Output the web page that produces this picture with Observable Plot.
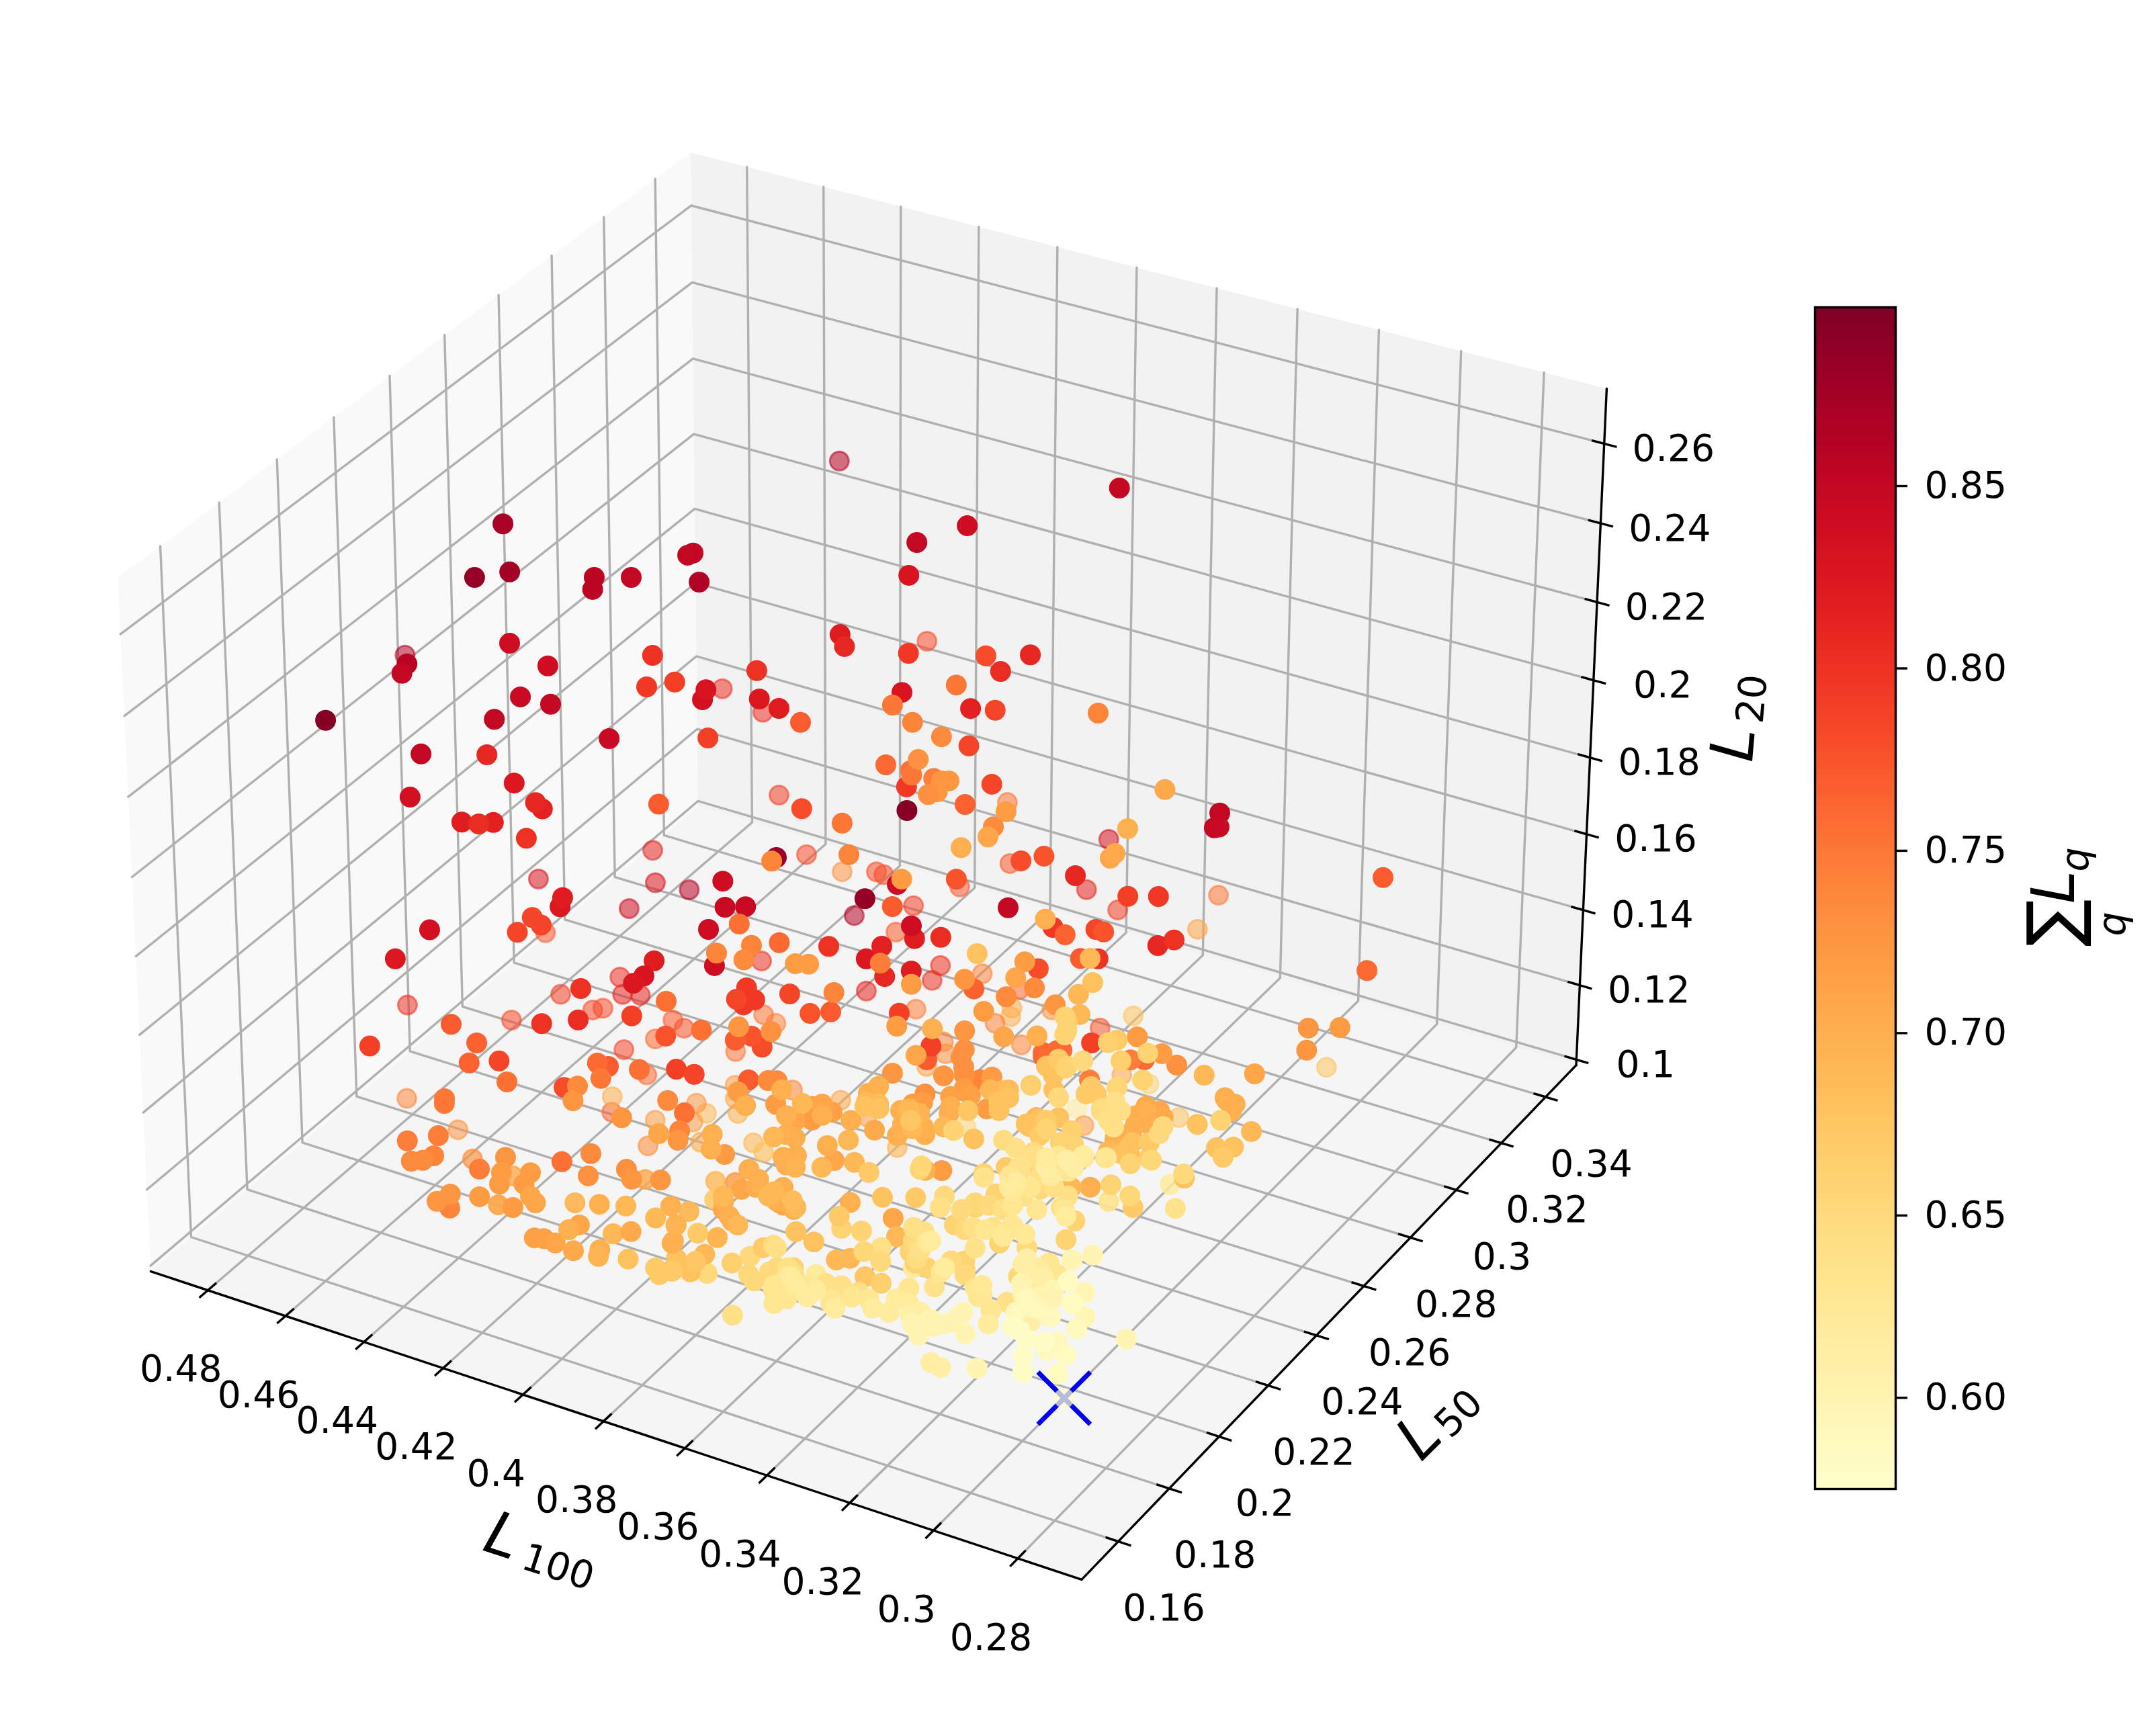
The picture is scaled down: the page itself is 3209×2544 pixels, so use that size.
<!DOCTYPE html>
<html lang="en">
<head>
<meta charset="UTF-8">
<title>L100 L50 L20</title>
<script src="https://cdn.jsdelivr.net/npm/d3@7"></script>
<script src="https://cdn.jsdelivr.net/npm/@observablehq/plot@0.6"></script>
<style>
body { margin: 0; background: white; position: relative; width: 3209px; height: 2544px; overflow: hidden; }
#chart, #bar { position: absolute; top: 0; left: 0; }
</style>
</head>
<body>
<div id="chart"></div>
<div id="bar"></div>
<script>
const L100 = [.4382,.4318,.4259,.4095,.4071,.4029,.3972,.3977,.3917,.4099,.5034,.4368,.4314,.4059,.3820,.3763,.3724,.3845,.3904,.4410,.3604,.3764,.3720,.4317,.3420,.4186,.4204,.4839,.4297,.4161,.3638,.4445,.4066,.4204,.4429,.4103,.4147,.3663,.4244,.3583,.4300,.4170,.4226,.4105,.4453,.4431,.4657,.4474,.4161,.4074,.3414,.4155,.4334,.4308,.3341,.3537,.3592,.3536,.3533,.3500,.3373,.4041,.3231,.3288,.3258,.3619,.3295,.3224,.3457,
.3222,.2920,.3225,.3146,.3313,.3264,.3141,.3209,.3177,.3121,.3059,.3046,.3045,.3055,.3531,.3353,.2658,.3259,.3252,.3263,.3852,.3274,.3800,.2917,.3066,.2907,.2666,.3628,.3341,.2943,.2758,.2805,.3317,.4079,.4013,.3999,.3152,.3831,.3491,.3845,.3760,.3416,.3345,.3499,.3606,.3388,.3330,.3345,.2917,.4392,.4469,.4144,.4103,.4674,.4137,.4142,.4182,.4617,.4164,.3682,.4697,.4250,.3594,.3709,.3645,.4133,.3590,.4184,.3426,
.4259,.4450,.4274,.4432,.4400,.4343,.4551,.4061,.4063,.4038,.4056,.3974,.3914,.4840,.4462,.4481,.4361,.4261,.4323,.4295,.3934,.4345,.4143,.4150,.4122,.3647,.3661,.4024,.4032,.3999,.4185,.4326,.4633,.4426,.4295,.4345,.4469,.4261,.4627,.4400,.4159,.4233,.4109,.4085,.4344,.4150,.4112,.4352,.4027,.3983,.4396,.4389,.3964,.4790,.4325,.4338,.4675,.4373,.4419,.4379,.4376,.4360,.3957,.4110,.4231,.4208,.4229,.4302,.3835,
.4049,.3948,.4279,.3694,.4186,.3885,.4005,.3802,.3789,.4054,.3528,.3740,.4167,.4159,.3597,.4147,.3719,.3454,.3653,.3550,.4083,.4044,.3611,.3661,.3629,.4157,.4316,.4169,.4108,.4084,.4213,.4053,.4586,.4401,.4178,.4175,.4202,.4472,.4143,.4175,.4109,.4118,.4319,.4350,.4252,.4438,.4240,.4297,.3966,.3861,.3893,.4039,.4075,.4035,.3727,.3737,.3731,.3858,.3727,.3679,.3622,.3643,.4479,.4242,.3852,.4063,.3887,.3673,.3867,
.3971,.3877,.4240,.4231,.4186,.4058,.4140,.4068,.4043,.4160,.4033,.3889,.4010,.3989,.3784,.3848,.3990,.3778,.3902,.3558,.3406,.3419,.3657,.3580,.3511,.3856,.3408,.3630,.3642,.3856,.3820,.3673,.3760,.3341,.3328,.3884,.3584,.3922,.4319,.3781,.3942,.3769,.3719,.3926,.3826,.3850,.3516,.3803,.3757,.3333,.3862,.3902,.4080,.3590,.3862,.3926,.3758,.3862,.3426,.3412,.2907,.3608,.2912,.3514,.3391,.3432,.3412,.3528,.3306,
.3276,.3365,.2855,.3443,.3412,.2822,.2934,.3296,.3605,.3754,.3157,.3518,.3125,.3308,.3674,.3356,.3677,.3675,.3297,.3701,.3248,.3240,.3600,.2970,.2847,.2800,.3441,.3602,.3378,.2802,.2823,.3164,.3133,.3640,.3240,.3395,.3793,.3678,.3470,.3385,.3781,.3679,.3811,.3510,.3507,.3563,.3461,.3429,.3024,.2898,.2750,.2820,.3294,.3268,.2739,.3166,.3206,.2935,.3020,.2975,.2898,.2967,.3042,.2897,.3361,.3432,.2792,.3375,.2798,
.2957,.2945,.2843,.3065,.2967,.3153,.3414,.3606,.3213,.3568,.3466,.3438,.3167,.3484,.3163,.3382,.3547,.3562,.3376,.3330,.3957,.3634,.3511,.3589,.3713,.3896,.3543,.3436,.3247,.3379,.3452,.3487,.3798,.3339,.3102,.3702,.3251,.3473,.3589,.3689,.3560,.3513,.3356,.3165,.3594,.3153,.3214,.3161,.3054,.3111,.3475,.3499,.3007,.2782,.2723,.2760,.2797,.3147,.3182,.3177,.3299,.2962,.2777,.3029,.3027,.2984,.2982,.2961,.2918,
.3243,.3073,.3106,.3007,.2964,.2894,.2752,.2773,.2801,.2904,.2949,.2911,.2905,.2744,.2690,.2845,.3356,.3473,.3682,.3479,.3740,.3403,.3660,.3617,.3642,.3844,.3761,.3374,.3687,.3664,.3405,.3627,.3366,.3600,.3534,.3696,.3405,.3390,.3467,.3373,.3303,.3268,.3227,.3215,.3225,.3177,.3102,.3054,.3069,.3071,.3043,.2972,.3014,.3236,.3368,.3159,.3137,.3071,.3262,.3279,.3527,.3526,.3214,.3162,.3109,.3179,.2961,.2836,.2820,
.3190,.2927,.2973,.2828,.3141,.3191,.2950,.2983,.2976,.3091,.3113,.3288,.3110,.3273,.3172,.2933,.2964,.3021,.3032,.2751,.2717,.2692,.2758,.2716,.2809,.2802,.2847,.2851,.2971,.2795,.2847,.2846,.2834,.3000,.2802,.2782,.2848,.2878,.2826,.2832,.2867,.2875,.3226,.3181,.3132,.3098,.3169,.3237,.3194,.3074,.2806,.3204,.3081,.3124,.2989,.3026,.3288,.3303,.3047,.3179,.2906,.2697,.2817,.2888,.2934,.3310,.2769,.2977,.2881,
.3177,
.3178,.3177,.3287,.3395,.3215,.3025,.3413,.3408,.3064,.3286,.3351,.3296,.3168,.3228,.3130,.3042,.2946,.2995,.2892,.2950,.2890,.3041,.2941,.2910,.3077,.2944,.2897,.3023,.3004,.3205,.2877,.2903,.2893,.2872,.2856,.2829,.2808,.2805,.2825,.2795,.3160,.3153,.3377,.3348,.3432,.3337,.3308,.3293,.3182,
.3115,.3023,.3016,.2988,.3334,.3559,.3382,.3493,.3346,.3280,.3163,.3092,.2995,.3003,.3138,.2994,.2913,.2744,.2698,.2818,.2754,.2713,.3169,.3177,.3206,.3168,.3203,.3282,.3196,.3087,.2975,.2781,.2927,.2853,.3028,.3038,.3463,.3438,.2939,.2788,.2766,.3343,.3378,.3440,.3459,.3369,.3434,.3412,.3309,
.3300,.3532,.3686,.3151,.3128,.3200,.3027,.3042,.3470,.3488,.3520,.3757,.3663,.3674,.3609,.3573,.3726,.3349,.3400,.3380,.3548,.3847,.3776,.3923,.3842,.3752,.3966,.3928];
const L50 = [.1998,.1805,.1844,.1905,.1864,.1940,.2079,.2067,.2018,.1612,.2543,.1635,.1543,.1685,.1705,.1599,.1640,.1931,.2006,.2838,.1752,.2003,.2008,.2855,.1627,.1768,.1899,.1989,.1832,.2044,.1627,.1780,.1479,.1765,.1716,.1695,.1781,.1488,.2805,.1880,.1714,.1591,.1720,.1663,.2626,.2602,.2487,.2796,.2459,.2534,.1512,.2776,.2114,.3148,.2707,.2431,.2326,.2207,.1946,.1911,.1948,.3081,.2011,.2160,.2225,.2313,.1766,.1889,.2319,
.2033,.1928,.1729,.1710,.2081,.1693,.1617,.1697,.1650,.1642,.1571,.1578,.1534,.1517,.2192,.2235,.1745,.3008,.2994,.2993,.2702,.2005,.3026,.1580,.1776,.1498,.1619,.3168,.1654,.1458,.1728,.1789,.1641,.2800,.2834,.2842,.1575,.2631,.2322,.2905,.2973,.2455,.2430,.2814,.3040,.2847,.2877,.3160,.3117,.2187,.2556,.2441,.2458,.2108,.1723,.1761,.1733,.2452,.2407,.1799,.2014,.2327,.1710,.1987,.1660,.2382,.1676,.2641,.1613,
.2301,.2489,.2283,.2472,.2493,.2187,.2410,.2396,.2360,.2392,.2376,.2430,.1875,.2248,.2440,.2429,.2201,.2256,.2503,.2504,.2033,.2467,.2209,.2596,.2601,.1741,.1881,.2358,.2307,.2360,.2538,.1694,.2341,.2159,.1739,.1780,.2061,.1795,.1819,.2427,.1978,.2125,.1917,.2024,.2431,.2258,.2269,.2131,.1714,.1634,.2374,.2361,.1780,.2167,.1662,.1679,.2192,.1703,.1657,.1693,.1610,.1628,.1939,.2227,.2453,.2457,.2436,.2399,.1725,
.2118,.1962,.2336,.1711,.2400,.2042,.2316,.2083,.2097,.2561,.1717,.1876,.2508,.2496,.1688,.2488,.1985,.1679,.1957,.1719,.2451,.2431,.1860,.1923,.1920,.1945,.2066,.1951,.2004,.1988,.2227,.2050,.2119,.1885,.1667,.1647,.1677,.2106,.1705,.1726,.1655,.1685,.1665,.1660,.1675,.2002,.1776,.2084,.1697,.1640,.1851,.2233,.2291,.2307,.1895,.1946,.1804,.2064,.2023,.1894,.1898,.1946,.1883,.2020,.1734,.2170,.1861,.1623,.1984,
.1969,.1951,.1851,.1873,.1850,.1717,.1850,.1843,.1801,.2026,.1908,.1686,.1963,.1946,.1692,.1854,.2012,.1770,.1997,.1575,.1497,.1516,.1723,.1669,.1641,.2091,.1500,.1799,.1941,.2024,.1940,.1989,.2047,.1459,.1459,.2586,.2222,.2840,.3222,.2608,.2801,.2602,.2627,.2509,.2562,.2538,.2069,.2537,.2570,.1898,.2855,.2885,.2898,.2008,.2417,.2435,.2524,.2756,.1990,.1640,.1461,.2719,.1723,.2749,.2595,.2790,.2789,.3042,.2837,
.2854,.3107,.1801,.2746,.2767,.1757,.1890,.2042,.2578,.2853,.2049,.2697,.1962,.2336,.2875,.2303,.2851,.2843,.2119,.2821,.2118,.2308,.2890,.1957,.1703,.1616,.2968,.3099,.2688,.1787,.1857,.2516,.2060,.2831,.1830,.2203,.2758,.2524,.2323,.1999,.2748,.2509,.2719,.2306,.2381,.2190,.2627,.2651,.1939,.1783,.1603,.1868,.2710,.2724,.1835,.2623,.2755,.2402,.2764,.2912,.2912,.2893,.3118,.3022,.2653,.2908,.1907,.2928,.1817,
.1963,.1984,.1667,.2016,.1765,.1984,.2343,.2386,.2010,.2545,.2263,.2297,.1970,.2437,.1844,.2123,.2283,.2267,.1797,.1770,.2603,.2068,.1949,.1961,.2113,.2612,.2089,.2021,.1760,.2004,.2141,.2089,.2580,.2033,.1691,.2705,.2009,.1880,.1980,.2161,.1914,.1965,.1775,.1671,.2435,.1890,.2194,.2067,.1969,.2113,.2823,.2834,.1993,.1731,.1705,.1742,.1986,.2527,.2546,.2652,.2929,.2425,.2199,.2662,.2696,.2693,.2542,.2577,.2459,
.2564,.2348,.2361,.2305,.2156,.2122,.1702,.1651,.1600,.1672,.1633,.1616,.1620,.1459,.1474,.2170,.1953,.2010,.2212,.1854,.2268,.1820,.2346,.2292,.2009,.2201,.2115,.1459,.2165,.2183,.1832,.2247,.1835,.2141,.2101,.2100,.1570,.1666,.1831,.1763,.1462,.1510,.1586,.1630,.1720,.1644,.1568,.1461,.1510,.1572,.1603,.1521,.1598,.1835,.2167,.1737,.2003,.1545,.1809,.1836,.2216,.2261,.1744,.1754,.1653,.1899,.1579,.1472,.1471,
.2037,.1727,.1898,.1676,.2233,.2281,.1720,.1726,.1678,.1825,.1786,.1995,.1789,.2149,.2093,.1686,.1797,.1932,.1983,.1573,.1596,.1460,.1636,.1519,.1723,.1680,.1953,.1546,.1791,.1475,.1659,.1637,.1498,.1827,.1459,.1520,.1680,.1691,.1680,.1523,.1580,.1728,.2104,.1967,.1878,.1797,.1898,.1824,.1794,.1741,.2072,.2733,.2581,.2442,.2199,.2184,.2618,.2565,.2377,.2518,.1958,.1521,.1664,.1739,.1752,.2498,.1517,.1795,.1558,
.1977,
.1663,.1701,.1835,.1994,.1747,.1484,.2042,.2081,.1598,.1980,.2138,.2050,.1829,.1980,.1874,.1784,.1665,.1786,.1564,.1698,.1640,.1928,.1815,.1725,.1959,.1875,.1784,.1687,.1736,.1902,.1608,.1663,.1700,.1587,.1628,.1634,.1522,.1583,.1471,.1476,.1898,.1860,.1704,.1482,.1571,.1501,.1635,.1675,.1604,
.1551,.1481,.1521,.1528,.1599,.1804,.1507,.1640,.1616,.1459,.2084,.2007,.1873,.1941,.2082,.1979,.1673,.1460,.1461,.1791,.1710,.1667,.2523,.2579,.2686,.2578,.2567,.2631,.2458,.2358,.2251,.1973,.1804,.1715,.1925,.1969,.2630,.2645,.1953,.1604,.1560,.1907,.1976,.2115,.2065,.2108,.1895,.1899,.1686,
.1724,.1873,.2071,.1943,.1944,.2034,.2652,.2708,.2323,.2339,.2404,.1966,.1892,.1955,.1889,.1802,.1754,.1462,.1539,.1458,.1640,.2000,.1925,.2092,.2183,.2078,.1967,.1921];
const L20 = [.2737,.2728,.2737,.2737,.2737,.2737,.2737,.2737,.2715,.2737,.1927,.2597,.2641,.2654,.2737,.2737,.2737,.2522,.2439,.1857,.2737,.2483,.2470,.1813,.2737,.2496,.2400,.2124,.2373,.2246,.2636,.2273,.2553,.2281,.2207,.2303,.2225,.2549,.1646,.2338,.2185,.2290,.2203,.2233,.1541,.1476,.1484,.1331,.1646,.1690,.2474,.1533,.1752,.2308,.2737,.2737,.2737,.2737,.2737,.2737,.2737,.1953,.2737,.2601,.2614,.2369,.2737,.2737,.2373,
.2597,.2737,.2737,.2737,.2457,.2645,.2737,.2645,.2671,.2684,.2737,.2737,.2737,.2737,.2229,.2264,.2737,.1778,.1752,.1747,.1782,.2369,.1633,.2702,.2509,.2693,.2715,.1506,.2505,.2680,.2566,.2505,.2444,.1497,.1497,.1489,.2474,.1638,.1935,.1467,.1515,.1927,.1975,.1655,.1454,.1616,.1616,.1449,.1651,.1668,.1423,.1594,.1598,.1568,.1992,.1949,.1935,.1375,.1550,.2071,.1541,.1489,.2098,.1905,.2093,.1480,.2084,.1322,.2163,
.1462,.1287,.1449,.1257,.1252,.1471,.1257,.1436,.1427,.1414,.1405,.1427,.1760,.1235,.1230,.1226,.1375,.1384,.1204,.1191,.1585,.1169,.1397,.1217,.1200,.1861,.1760,.1344,.1362,.1322,.1143,.1681,.1204,.1370,.1616,.1524,.1318,.1493,.1454,.1147,.1462,.1340,.1476,.1441,.1095,.1278,.1270,.1243,.1607,.1633,.1055,.1024,.1506,.1051,.1511,.1484,.0989,.1375,.1375,.1327,.1366,.1362,.1454,.1195,.1042,.1020,.1003,.1007,.1541,
.1235,.1340,.0985,.1594,.0985,.1274,.1261,.1467,.1462,.1068,.1756,.1585,.1077,.1051,.1712,.1020,.1493,.1769,.1489,.1629,.0985,.0985,.1528,.1414,.1401,.1248,.1099,.1182,.1186,.1178,.0985,.1147,.0985,.1165,.1405,.1379,.1322,.0985,.1353,.1300,.1335,.1296,.1265,.1239,.1274,.0985,.1186,.0985,.1335,.1401,.1257,.0985,.0985,.0985,.1379,.1318,.1366,.1178,.1252,.1327,.1331,.1410,.1038,.0985,.1314,.0985,.1204,.1405,.1099,
.1059,.1073,.1059,.1046,.1064,.1226,.1059,.1090,.1108,.0985,.1108,.1226,.0985,.0985,.1226,.1099,.0985,.1204,.0985,.1265,.1397,.1414,.1270,.1300,.1349,.0985,.1541,.1270,.1217,.1121,.1239,.1239,.1191,.1511,.1493,.1611,.1896,.1432,.1059,.1559,.1379,.1533,.1537,.1519,.1519,.1493,.1865,.1462,.1471,.1971,.1283,.1213,.1121,.1804,.1423,.1388,.1388,.1226,.1782,.2150,.2439,.1594,.2365,.1554,.1664,.1550,.1550,.1423,.1519,
.1533,.1384,.2242,.1497,.1493,.2220,.2076,.1909,.1467,.1296,.1992,.1476,.2014,.1708,.1265,.1690,.1230,.1213,.1782,.1200,.1734,.1703,.1226,.1975,.2150,.2185,.1213,.1051,.1331,.2062,.2019,.1519,.1808,.1156,.1931,.1651,.1160,.1327,.1506,.1716,.1138,.1300,.1112,.1436,.1414,.1497,.1305,.1318,.1835,.1971,.2146,.1962,.1300,.1300,.2027,.1410,.1287,.1563,.1318,.1362,.1388,.1318,.1112,.1471,.1261,.1095,.1900,.1077,.1935,
.1778,.1769,.1988,.1721,.1918,.1712,.1441,.1309,.1677,.1261,.1423,.1414,.1664,.1278,.1743,.1493,.1370,.1370,.1725,.1752,.1046,.1449,.1541,.1550,.1375,.1016,.1419,.1546,.1743,.1568,.1405,.1423,.0985,.1528,.1808,.0994,.1541,.1546,.1432,.1248,.1427,.1423,.1568,.1712,.1081,.1559,.1493,.1572,.1677,.1576,.0998,.1029,.1651,.1935,.1971,.1896,.1716,.1327,.1270,.1222,.1011,.1414,.1624,.1309,.1278,.1222,.1274,.1261,.1322,
.1195,.1379,.1331,.1388,.1480,.1533,.1848,.1874,.1900,.1822,.1870,.1874,.1826,.1979,.1988,.1484,.1392,.1318,.1108,.1366,.0985,.1375,.0989,.0989,.1147,.1055,.1125,.1572,.0985,.0985,.1314,.0985,.1300,.0985,.1016,.0985,.1423,.1344,.1200,.1265,.1471,.1423,.1388,.1353,.1353,.1379,.1432,.1489,.1423,.1405,.1405,.1506,.1388,.1278,.1064,.1405,.1230,.1633,.1427,.1335,.0985,.1213,.1642,.1585,.1638,.1471,.1808,.1892,.1909,
.1471,.1646,.1528,.1695,.1226,.1130,.1581,.1589,.1594,.1484,.1502,.1318,.1449,.1178,.1235,.1533,.1441,.1349,.1283,.1677,.1686,.1716,.1554,.1616,.1419,.1419,.1200,.1603,.1388,.1629,.1493,.1467,.1568,.1274,.1559,.1497,.1370,.1331,.1344,.1445,.1353,.1248,.1068,.1151,.1191,.1353,.1235,.1090,.1112,.1186,.1471,.0985,.1138,.1134,.1362,.1388,.0985,.1051,.1327,.1204,.1638,.1984,.1817,.1773,.1712,.1090,.1914,.1730,.1813,
.1445,
.1559,.1524,.1379,.1213,.1436,.1690,.1147,.1112,.1537,.1235,.1112,.1151,.1502,.1392,.1497,.1572,.1690,.1620,.1843,.1752,.1769,.1533,.1642,.1765,.1563,.1581,.1620,.1589,.1559,.1392,.1616,.1533,.1506,.1541,.1515,.1537,.1572,.1511,.1554,.1528,.1243,.1287,.1318,.1471,.1397,.1462,.1357,.1331,.1414,
.1432,.1497,.1462,.1484,.1366,.1239,.1410,.1366,.1340,.1497,.1554,.1603,.1734,.1655,.1581,.1629,.1813,.2001,.2010,.1892,.1935,.2019,.1309,.1296,.1208,.1252,.1230,.1147,.1248,.1357,.1471,.1747,.1971,.2032,.1848,.1795,.1314,.1318,.1808,.2207,.2273,.1651,.1546,.1445,.1476,.1524,.1668,.1690,.1804,
.1778,.1594,.1445,.1708,.1725,.1664,.1322,.1248,.1405,.1471,.1375,.1278,.1344,.1370,.1502,.1624,.1519,.1506,.1462,.1476,.1314,.1151,.1200,.1086,.1073,.1169,.1068,.1151];
const sumL = [.87,.885,.875,.855,.855,.85,.85,.85,.865,.84,.86,.86,.85,.84,.8,.795,.79,.83,.835,.8,.8,.825,.82,.8,.77,.845,.85,.895,.85,.845,.79,.85,.81,.825,.835,.81,.815,.77,.79,.78,.82,.805,.815,.8,.81,.83,.83,.86,.84,.88,.74,.78,.82,
.86,.85,.84,.85,.83,.82,.81,.795,.78,.78,.805,.81,.83,.75,.75,.815,.785,.74,.74,.735,.785,.76,.73,.755,.75,.745,.725,.725,.725,.73,.795,.785,.705,.85,.845,.85,.895,.765,.75,.72,.735,.71,.7,.83,.75,.7,.705,.71,.74,.73,.78,.78,.72,.84,.775,.77,.77,.78,.775,.81,.81,.79,.795,.75,.77,
.825,.84,.845,.845,.835,.785,.785,.785,.77,.84,.755,.825,.82,.74,.76,.74,.84,.735,.8,.72,.83,.8,.825,.81,.81,.8,.79,.795,.785,.795,.795,.785,.755,.8,.78,.78,.805,.79,.77,.775,.755,.76,.775,.75,.74,.725,.73,.775,.77,.78,.75,.77,.78,.8,.765,.765,.785,.755,.79,.785,.76,.77,.75,.755,.76,.79,.785,.78,.735,.725,.7,.765,.725,.74,.75,.75,.73,.745,.745,.74,.735,.735,.735,.755,.725,.69,.72,.72,.71,.74,.725,.73,.7,.705,.72,.77,.735,.735,.74,.7,.72,.72,.71,.7,.7,.72,.69,.71,.69,.69,.68,.7,.7,.695,.735,.755,.73,.73,.725,.71,.725,.73,.745,.725,.72,.72,.71,.72,.72,.71,.71,.725,.725,.72,.71,.72,.695,.7,.69,.7,.67,.69,.72,.7,.7,.69,.71,.7,.69,.685,.7,
.74,.71,.69,.69,.695,.67,.695,.7,.69,.715,.715,.71,.7,.705,.7,.695,.69,.705,.68,.67,.67,.67,.68,.68,.675,.65,.64,.63,.635,.665,.655,.65,.65,.645,.67,.68,.7,.7,.69,.7,.62,.62,
.885,.77,.79,.86,.84,.77,.82,.805,.8,.815,.825,.745,.81,.82,.72,.8,.8,.81,.74,.77,.775,.79,.745,.72,.72,.68,.85,.7,.795,.765,.785,.775,.79,.81,.8,.71,.69,.77,.8,.68,.69,.725,.765,.74,.72,.78,.71,.735,.76,.735,.7,.7,.72,.74,.71,.725,.73,.69,.67,.66,.68,.775,.79,.665,.67,.72,.7,.74,.7,.725,.74,.79,.73,.71,.73,.77,.71,.725,.73,.725,.765,.76,.68,.665,.65,.665,.745,.76,.66,.72,.73,.69,.71,.725,.72,.725,.68,.76,.745,.71,.66,.66,.655,.67,.67,.65,.68,.665,.685,.72,.73,.69,.74,.715,.715,.68,.72,.675,.7,.72,.72,.69,.685,.71,.715,.7,.71,.72,.72,.705,.7,.675,.695,.7,.7,.69,.69,.66,.66,.68,.69,.7,.71,.69,.69,.67,.655,.72,.66,.69,.68,.67,.68,.72,.62,.665,.645,.64,.64,.65,.7,.7,.705,.68,.68,.66,.7,.7,.69,.68,.68,.67,.7,.68,.68,.67,.66,.655,.63,.63,.63,.64,.645,.64,.635,.61,.615,.65,
.67,.68,.7,.67,.66,.66,.71,.69,.68,.71,.7,.64,.69,.69,.655,.64,.65,.675,.665,.62,.64,.64,.65,.64,.62,.62,.62,.62,.63,.62,.61,.6,.6,.605,.605,.6,.6,.635,.66,.63,.655,.625,.65,.645,.62,.7,.66,.65,.64,.655,.635,.62,.62,.67,.63,.64,.62,.66,.66,.625,.63,.625,.64,.64,.66,.635,.66,.65,.615,.62,.63,.63,.6,.6,.585,.595,.585,.595,.59,.6,.6,.615,.59,.6,.595,.59,.61,.58,.58,.59,.59,.585,.58,.58,.585,.64,.63,.62,.625,.63,.615,.61,.6,.635,.62,.68,.67,.655,.66,.635,.7,.675,.69,.65,.62,.63,.64,.64,.69,.62,.65,.625,.66,
.64,.64,.65,.66,.64,.62,.66,.66,.62,.65,.66,.65,.65,.66,.65,.64,.63,.64,.63,.64,.63,.65,.64,.64,.66,.64,.63,.63,.63,.65,.61,.61,.61,.6,.6,.6,.59,.59,.585,.58,.63,.63,.64,.63,.64,.63,.63,.63,.62,.61,.6,.6,.6,.63,.66,.63,.65,.63,.62,
.68,.67,.66,.66,.68,.66,.64,.62,.61,.65,.64,.64,.7,.705,.71,.7,.7,.71,.69,.68,.67,.65,.67,.66,.68,.68,.76,.76,.67,.66,.66,.69,.69,.7,.7,.7,.7,.7,.68,.68,.7,.72,.68,.68,.69,.7,.7,.72,.73,.73,
.7,.69,.7,.7,.7,.7,
.63,.64,.63,.65,.7,.69,.71,.71,.7,.7,.7];

// the marked point
const bestL100 = [.2835];
const bestL50 = [.1689];
const bestL20 = [.1226];

const xTicks = [0.28, 0.3, 0.32, 0.34, 0.36, 0.38, 0.4, 0.42, 0.44, 0.46, 0.48];
const yTicks = [0.16, 0.18, 0.2, 0.22, 0.24, 0.26, 0.28, 0.3, 0.32, 0.34];
const zTicks = [0.1, 0.12, 0.14, 0.16, 0.18, 0.2, 0.22, 0.24, 0.26];
const barTicks = [0.6, 0.65, 0.7, 0.75, 0.8, 0.85];

const xMin = 0.265, xMax = 0.4948, yMin = 0.1458, yMax = 0.354, zMin = 0.0985, zMax = 0.2737;
const sumDomain = [0.575, 0.899];

// same camera as a matplotlib 3D axes: elev 30, azim -60, dist 10
function project(a, b, c) {
  const px = ((xMax - a) / (xMax - xMin) - 0.5) * 1.1905;
  const py = ((b - yMin) / (yMax - yMin) - 0.5) * 1.1905;
  const pz = ((c - zMin) / (zMax - zMin) - 0.5) * 0.87;
  const t = 0.433 * px - 0.75 * py + 0.5 * pz;
  const d = 10 - t;
  return {x: (0.866 * px + 0.5 * py) / d, y: (-0.25 * px + 0.433 * py + 0.866 * pz) / d, t};
}
const seg = (...pts) => pts.map(p => project(...p));

const grid = [
  ...zTicks.map(z => seg([xMax, yMin, z], [xMax, yMax, z], [xMin, yMax, z])),
  ...xTicks.map(x => seg([x, yMin, zMin], [x, yMax, zMin], [x, yMax, zMax])),
  ...yTicks.map(y => seg([xMin, y, zMin], [xMax, y, zMin], [xMax, y, zMax]))
];
const pane = (pts, fill) => Plot.line(seg(...pts), {x: "x", y: "y", fill, stroke: null});
const gridLine = g => Plot.line(g, {x: "x", y: "y", stroke: "#b0b0b0", strokeWidth: 3.4});
const axisLine = pts => Plot.line(seg(...pts), {x: "x", y: "y", stroke: "black", strokeWidth: 3.4});
const tickMarks = (ticks, f) => Plot.link(ticks.map(f), {x1: "x1", y1: "y1", x2: "x2", y2: "y2", stroke: "black", strokeWidth: 3.4});
const tick = (p, q) => ({x1: p.x, y1: p.y, x2: q.x, y2: q.y});
const fontFamily = "DejaVu Sans";
const tickLabels = (ticks, f, dx, dy) => Plot.text(ticks, {
  x: d => f(d).x, y: d => f(d).y, text: d => String(d), dx, dy, fontSize: 55, fontFamily, fill: "black"
});
const label = (text, dx, dy, rotate, fontSize, extra) => Plot.text([text], {
  frameAnchor: "top-left", textAnchor: "middle", lineAnchor: "middle", dx, dy, rotate, fontSize, fontFamily,
  fontStyle: "italic", fill: "black", ...extra
});

const points = L100.map((a, i) => ({...project(a, L50[i], L20[i]), sum: sumL[i]}))
  .sort((p, q) => p.t - q.t);
const fade = p => Math.max(0.55, Math.min(1, 1 + (p.t + 0.12) * 3));
const best = bestL100.map((a, i) => project(a, bestL50[i], bestL20[i]));

const chart = Plot.plot({
  width: 3209, height: 2544, margin: 0,
  style: {background: "transparent"},
  x: {domain: [-0.09788, 0.14294], axis: null},
  y: {domain: [-0.09661, 0.09143], axis: null},
  color: {type: "linear", scheme: "YlOrRd", domain: sumDomain},
  marks: [
    pane([[xMax, yMin, zMin], [xMax, yMax, zMin], [xMax, yMax, zMax], [xMax, yMin, zMax], [xMax, yMin, zMin]], "#f9f9f9"),
    pane([[xMax, yMax, zMin], [xMin, yMax, zMin], [xMin, yMax, zMax], [xMax, yMax, zMax], [xMax, yMax, zMin]], "#f2f2f2"),
    pane([[xMax, yMin, zMin], [xMin, yMin, zMin], [xMin, yMax, zMin], [xMax, yMax, zMin], [xMax, yMin, zMin]], "#f5f5f5"),
    ...grid.map(gridLine),
    axisLine([[xMax, yMin, zMin], [xMin, yMin, zMin]]),
    axisLine([[xMin, yMin, zMin], [xMin, yMax, zMin]]),
    axisLine([[xMin, yMax, zMin], [xMin, yMax, zMax]]),
    tickMarks(xTicks, d => tick(project(d, yMin - 0.003, zMin), project(d, yMin + 0.003, zMin))),
    tickMarks(yTicks, d => tick(project(xMin - 0.003, d, zMin), project(xMin + 0.003, d, zMin))),
    tickMarks(zTicks, d => tick(project(xMin - 0.003, yMax, d), project(xMin + 0.003, yMax, d))),
    tickLabels(xTicks, d => project(d, yMin, zMin), -40, 118),
    tickLabels(yTicks, d => project(xMin, d, zMin), 68, 100),
    tickLabels(zTicks, d => project(xMin, yMax, d), 103, 8),
    Plot.dot(points, {x: "x", y: "y", r: 14, fill: "sum", stroke: "sum", strokeWidth: 3, fillOpacity: fade, strokeOpacity: fade}),
    Plot.dot(best, {x: "x", y: "y", symbol: "times", r: 35.5, stroke: "#0000ee", strokeWidth: 7}),
    Plot.dot(best, {x: "x", y: "y", r: 14, fill: "#ffffcc", stroke: "#ffffcc", strokeWidth: 3, fillOpacity: 0.55, strokeOpacity: 0.55}),
    Plot.dot(best, {x: "x", y: "y", symbol: "times", r: 8, stroke: "#b9bcd8", strokeWidth: 7}),
    label("L", 748, 2287, 18, 89),
    label("100", 830, 2333, 18, 57, {fontStyle: "normal"}),
    label("L", 2112, 2139, -45, 89),
    label("50", 2171, 2104, -45, 57, {fontStyle: "normal"}),
    label("L", 2581, 1108, -85, 89),
    label("20", 2608, 1040, -85, 57, {fontStyle: "normal"}),
    label("∑", 3058, 1373, -90, 105, {fontStyle: "normal"}),
    label("L", 3058, 1320, -90, 89),
    label("q", 3089, 1279, -90, 57),
    label("q", 3144, 1375, -90, 57)
  ]
});
document.getElementById("chart").appendChild(chart);

// colour bar with its own axis
const bins = d3.range(256).map(i => {
  const s = (sumDomain[1] - sumDomain[0]) / 256;
  return {y1: sumDomain[0] + i * s, y2: sumDomain[0] + (i + 1) * s};
});
const bar = Plot.plot({
  width: 502, height: 1759, marginLeft: 2, marginRight: 380, marginTop: 0, marginBottom: 0,
  style: {background: "transparent", overflow: "visible"},
  y: {domain: sumDomain, axis: null},
  color: {type: "linear", scheme: "YlOrRd", domain: sumDomain},
  marks: [
    Plot.rect(bins, {y1: "y1", y2: "y2", fill: d => (d.y1 + d.y2) / 2, inset: -0.5}),
    Plot.frame({stroke: "black", strokeWidth: 3.4}),
    Plot.axisY(barTicks, {anchor: "right", tickFormat: d3.format(".2f"), tickSize: 17, tickPadding: 26, strokeWidth: 3.4, fontSize: 55, fontFamily, label: null})
  ]
});
const barDiv = document.getElementById("bar");
barDiv.style.left = "2699px";
barDiv.style.top = "457px";
barDiv.appendChild(bar);
</script>
</body>
</html>
